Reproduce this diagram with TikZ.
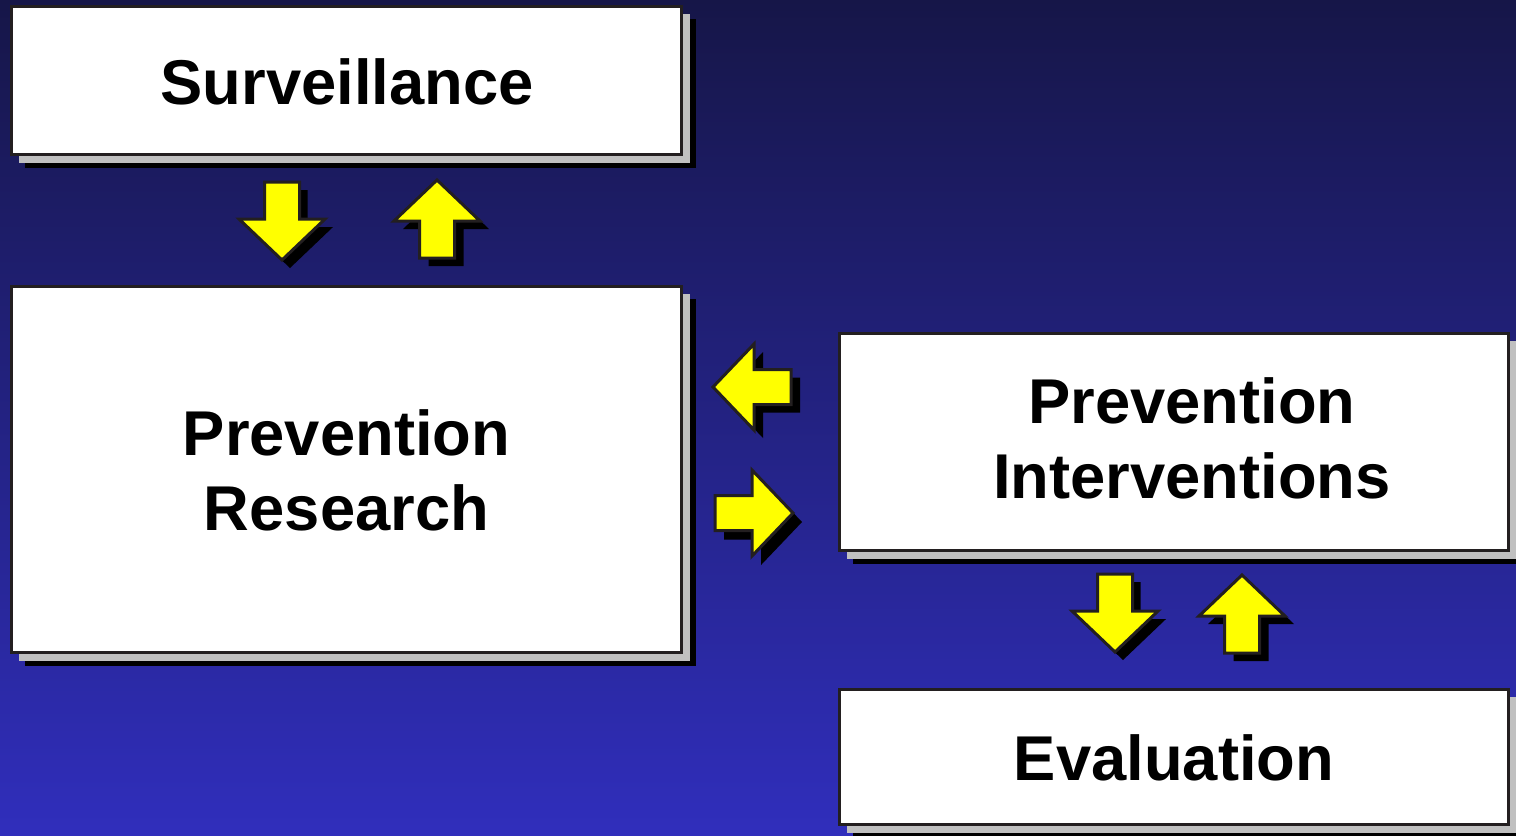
\documentclass[tikz,border=0pt]{standalone}
\usepackage{fontspec}
\setmainfont{Liberation Sans}
\usetikzlibrary{calc}
\definecolor{bgtop}{RGB}{22,22,72}
\definecolor{bgbot}{RGB}{48,46,188}
\definecolor{edge}{RGB}{35,31,32}
\definecolor{shadowgray}{RGB}{192,192,192}
\definecolor{arrowyellow}{RGB}{255,255,0}
\newcommand\blockarrow[3]{%
  \path[#3, shift={(#1)}, rotate=#2] (-78,-17.5) -- (-41,-17.5) -- (-41,-43) -- (0,0)
    -- (-41,43) -- (-41,17.5) -- (-78,17.5) -- cycle;}
\newcommand\boxshadow[1]{%
  \fill[black] ($(#1.south west)+(14,13)$) rectangle ($(#1.north east)+(14,13)$);
  \fill[shadowgray] ($(#1.south west)+(8,8)$) rectangle ($(#1.north east)+(8,8)$);}
\tikzset{
  box/.style={draw=edge, fill=white, line width=0.85pt, inner sep=0pt, outer sep=0pt},
  label/.style={font=\bfseries\fontsize{18}{21.3}\selectfont, align=center, text=black, inner sep=0pt},
  arrowbody/.style={fill=arrowyellow, draw=edge, line width=0.85pt, line join=miter},
  arrowshade/.style={fill=black}
}
\begin{document}
\begin{tikzpicture}[x=0.01cm, y=-0.01cm]
\useasboundingbox (0,0) rectangle (1516,835);
\shade[top color=bgtop, bottom color=bgbot] (0,0) rectangle (1516,835);
% box geometry (nodes without text first, to draw shadows behind)
\path (346.5,80.5) node[minimum width=6.70cm, minimum height=1.48cm, inner sep=0pt, outer sep=0pt] (sv) {};
\path (346.5,469.5) node[minimum width=6.70cm, minimum height=3.66cm, inner sep=0pt, outer sep=0pt] (pr) {};
\path (1174,442) node[minimum width=6.69cm, minimum height=2.17cm, inner sep=0pt, outer sep=0pt] (pi) {};
\path (1174,757) node[minimum width=6.69cm, minimum height=1.35cm, inner sep=0pt, outer sep=0pt] (ev) {};
\boxshadow{sv}
\boxshadow{pr}
\boxshadow{pi}
\boxshadow{ev}
\node[box, minimum width=6.70cm, minimum height=1.48cm] (svb) at (sv) {};
\node[box, minimum width=6.70cm, minimum height=3.66cm] (prb) at (pr) {};
\node[box, minimum width=6.69cm, minimum height=2.17cm] (pib) at (pi) {};
\node[box, minimum width=6.69cm, minimum height=1.35cm] (evb) at (ev) {};
\node[label] (svt) at (347,82) {Surveillance};
\node[label] (prt) at (346.5,470) {Prevention\\Research};
\node[label] (pit) at (1192,438) {Prevention\\Interventions};
\node[label] (evt) at (1174,758) {Evaluation};
% block arrows: shadows
\blockarrow{290,268}{-90}{arrowshade}
\blockarrow{446,188}{90}{arrowshade}
\blockarrow{722,395}{180}{arrowshade}
\blockarrow{802,522}{0}{arrowshade}
\blockarrow{1123,660}{-90}{arrowshade}
\blockarrow{1251,583}{90}{arrowshade}
% block arrows
\blockarrow{282,260}{-90}{arrowbody}
\blockarrow{437,180}{90}{arrowbody}
\blockarrow{713,387}{180}{arrowbody}
\blockarrow{793,513}{0}{arrowbody}
\blockarrow{1115,652}{-90}{arrowbody}
\blockarrow{1242,575}{90}{arrowbody}
\end{tikzpicture}
\end{document}
